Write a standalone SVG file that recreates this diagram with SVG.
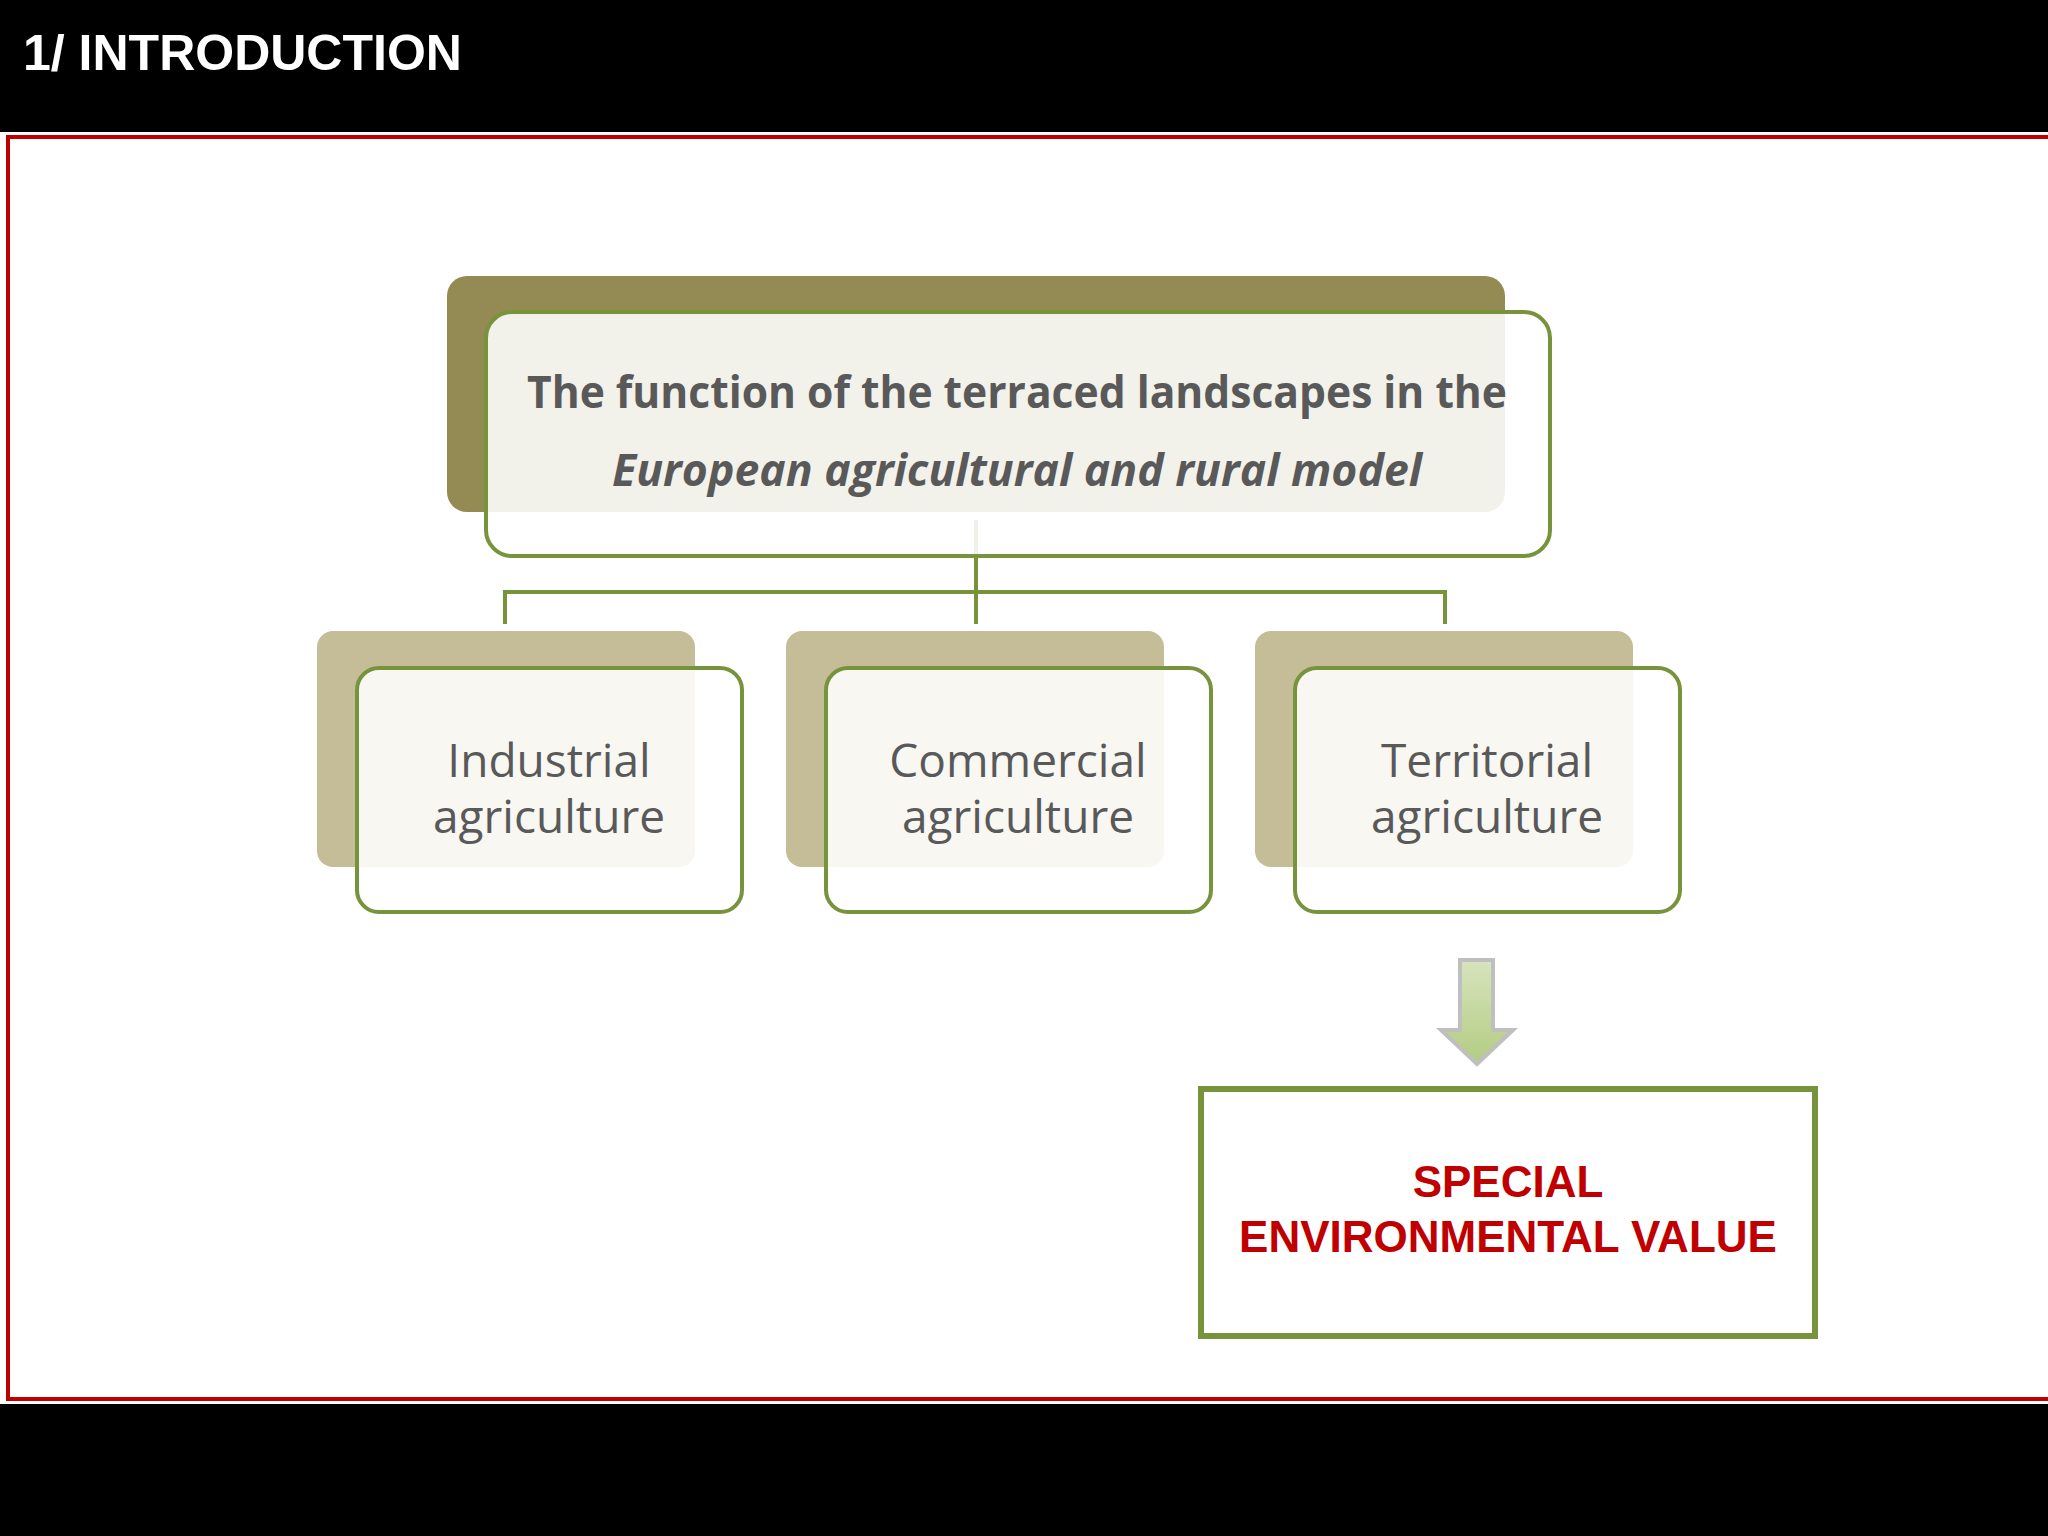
<svg xmlns="http://www.w3.org/2000/svg" width="2048" height="1536" viewBox="0 0 2048 1536">
<style>
.sh1{fill:#948a54}
.sh2{fill:#c4bd97}
.fr{fill:#ffffff;fill-opacity:0.88;stroke:#77933c;stroke-width:4}
.t{font-family:"Open Sans","Noto Sans",sans-serif;fill:#595959;text-anchor:middle}
.c{fill:none;stroke:#77933c;stroke-width:4}
</style>
<defs><linearGradient id="ag" x1="0" y1="0" x2="0" y2="1"><stop offset="0" stop-color="#d7e4bd"/><stop offset="1" stop-color="#b3cc82"/></linearGradient></defs>
<rect width="2048" height="1536" fill="#fff"/>
<rect x="0" y="0" width="2048" height="132" fill="#000"/>
<text x="23" y="70" font-family="Liberation Sans,Arial,sans-serif" font-weight="bold" font-size="50" fill="#fff">1/ INTRODUCTION</text>
<rect x="8" y="137" width="2044" height="1262" fill="none" stroke="#c00000" stroke-width="4"/>
<rect x="0" y="1404" width="2048" height="132" fill="#000"/>
<g id="connectors">
<path class="c" d="M976 520V624M505 624V592H1445V624"/>
</g>
<g id="top">
<rect class="sh1" x="447" y="276" width="1058" height="236" rx="20"/>
<rect class="fr" x="486" y="312" width="1064" height="244" rx="26"/>
<text class="t" x="1017" y="408" font-size="45" font-weight="bold" textLength="980" lengthAdjust="spacingAndGlyphs">The function of the terraced landscapes in the</text>
<text class="t" x="1017" y="486" font-size="45" font-weight="bold" font-style="italic" textLength="810" lengthAdjust="spacingAndGlyphs">European agricultural and rural model</text>
</g>
<g id="industrial">
<rect class="sh2" x="317" y="631" width="378" height="236" rx="16"/>
<rect class="fr" x="357" y="668" width="385" height="244" rx="22"/>
<text class="t" x="549" y="777" font-size="46">Industrial</text>
<text class="t" x="549" y="833" font-size="46">agriculture</text>
</g>
<g id="commercial">
<rect class="sh2" x="786" y="631" width="378" height="236" rx="16"/>
<rect class="fr" x="826" y="668" width="385" height="244" rx="22"/>
<text class="t" x="1018" y="777" font-size="46">Commercial</text>
<text class="t" x="1018" y="833" font-size="46">agriculture</text>
</g>
<g id="territorial">
<rect class="sh2" x="1255" y="631" width="378" height="236" rx="16"/>
<rect class="fr" x="1295" y="668" width="385" height="244" rx="22"/>
<text class="t" x="1487" y="777" font-size="46">Territorial</text>
<text class="t" x="1487" y="833" font-size="46">agriculture</text>
</g>
<g id="arrow">
<path d="M1460 960H1493V1030H1513L1477 1064L1441 1030H1460Z" fill="url(#ag)" stroke="#bfbfbf" stroke-width="4"/>
</g>
<g id="special">
<rect x="1201" y="1089" width="614" height="247" fill="#fff" stroke="#77933c" stroke-width="6"/>
<text x="1508" y="1197" font-family="Liberation Sans,Arial,sans-serif" font-weight="bold" font-size="44" fill="#c00000" text-anchor="middle">SPECIAL</text>
<text x="1508" y="1252" font-family="Liberation Sans,Arial,sans-serif" font-weight="bold" font-size="44" fill="#c00000" text-anchor="middle">ENVIRONMENTAL VALUE</text>
</g>
</svg>
